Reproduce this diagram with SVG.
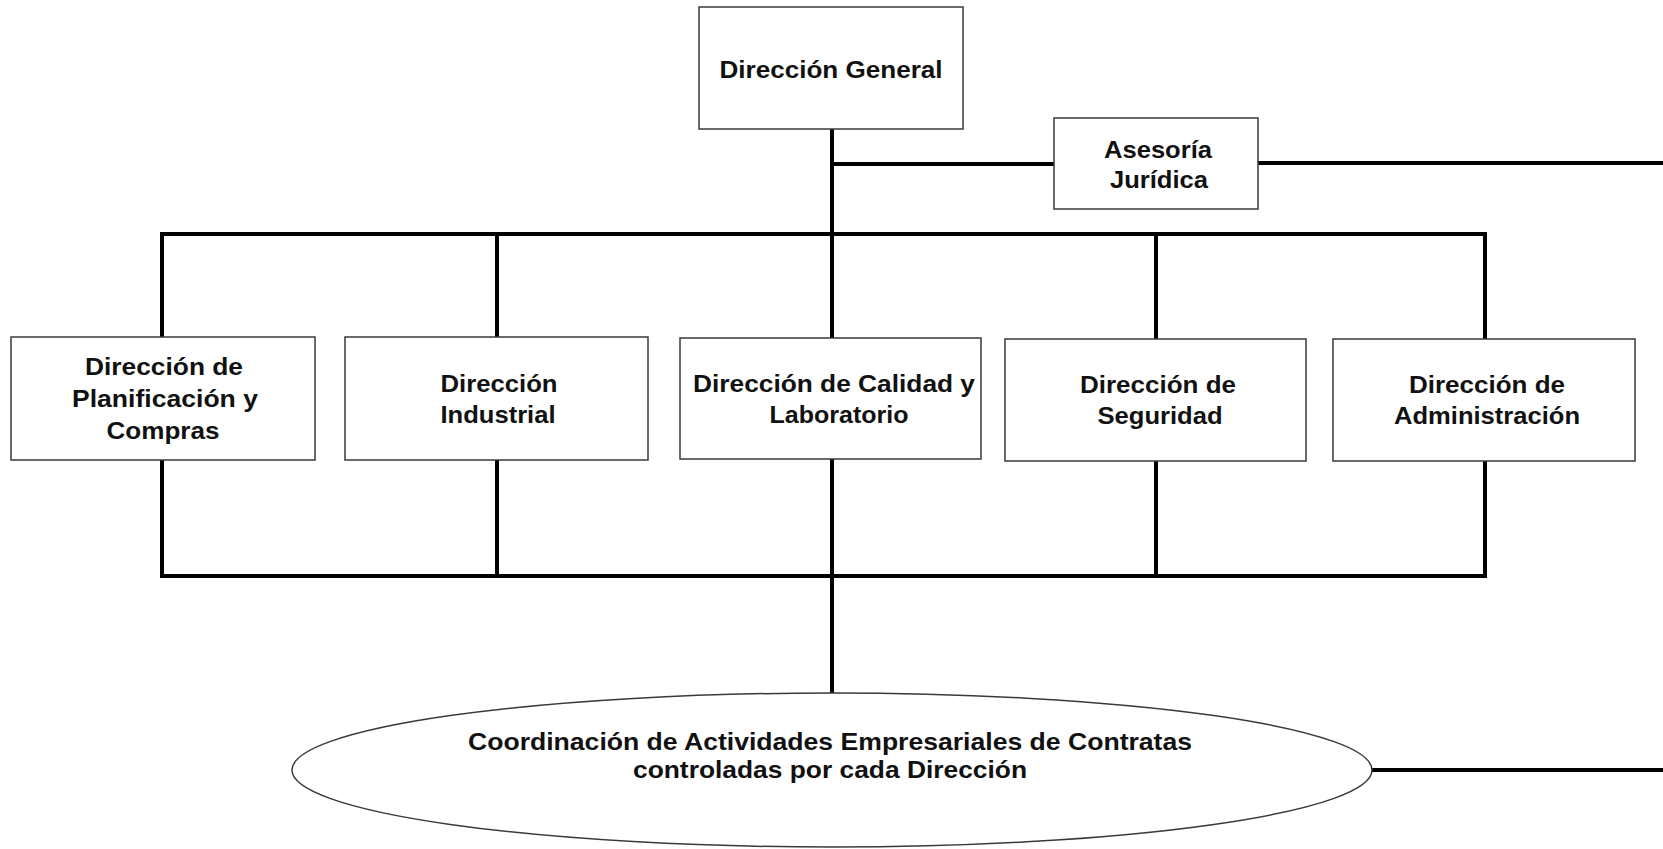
<svg xmlns="http://www.w3.org/2000/svg" width="1663" height="849" viewBox="0 0 1663 849">
<style>
.box{fill:#fff;stroke:#3a3a3a;stroke-width:1.5}
.t{font-family:"Liberation Sans",Arial,sans-serif;font-weight:bold;font-size:24px;fill:#111;text-anchor:middle}
.c{stroke:#000;stroke-width:4;fill:none;stroke-linecap:square}
</style>
<rect width="1663" height="849" fill="#fff"/>
<g id="connectors">
<path class="c" d="M832 129V338M832 164H1054M1258 163H1661M162 234H1485M162 234V337M497 234V337M1156 234V339M1485 234V339"/>
<path class="c" d="M162 460V576M497 460V576M832 459V692M1156 461V576M1485 461V576M162 576H1485M1372 770H1661"/>
</g>
<g id="n-direccion-general">
<rect class="box" x="699" y="7" width="264" height="122"/>
<text class="t" x="831" y="78" textLength="223" lengthAdjust="spacingAndGlyphs">Dirección  General</text>
</g>
<g id="n-asesoria">
<rect class="box" x="1054" y="118" width="204" height="91"/>
<text class="t" x="1158" y="158" textLength="108" lengthAdjust="spacingAndGlyphs">Asesoría</text>
<text class="t" x="1159" y="188" textLength="98" lengthAdjust="spacingAndGlyphs">Jurídica</text>
</g>
<g id="n-planificacion">
<rect class="box" x="11" y="337" width="304" height="123"/>
<text class="t" x="164" y="375" textLength="158" lengthAdjust="spacingAndGlyphs">Dirección de</text>
<text class="t" x="165" y="407" textLength="186" lengthAdjust="spacingAndGlyphs">Planificación  y</text>
<text class="t" x="163" y="439" textLength="113" lengthAdjust="spacingAndGlyphs">Compras</text>
</g>
<g id="n-industrial">
<rect class="box" x="345" y="337" width="303" height="123"/>
<text class="t" x="499" y="392" textLength="117" lengthAdjust="spacingAndGlyphs">Dirección</text>
<text class="t" x="498" y="423" textLength="115" lengthAdjust="spacingAndGlyphs">Industrial</text>
</g>
<g id="n-calidad">
<rect class="box" x="680" y="338" width="301" height="121"/>
<text class="t" x="834" y="392" textLength="282" lengthAdjust="spacingAndGlyphs">Dirección de Calidad y</text>
<text class="t" x="839" y="423" textLength="139" lengthAdjust="spacingAndGlyphs">Laboratorio</text>
</g>
<g id="n-seguridad">
<rect class="box" x="1005" y="339" width="301" height="122"/>
<text class="t" x="1158" y="393" textLength="156" lengthAdjust="spacingAndGlyphs">Dirección de</text>
<text class="t" x="1160" y="424" textLength="125" lengthAdjust="spacingAndGlyphs">Seguridad</text>
</g>
<g id="n-administracion">
<rect class="box" x="1333" y="339" width="302" height="122"/>
<text class="t" x="1487" y="393" textLength="156" lengthAdjust="spacingAndGlyphs">Dirección de</text>
<text class="t" x="1487" y="424" textLength="186" lengthAdjust="spacingAndGlyphs">Administración</text>
</g>
<g id="n-coordinacion">
<ellipse cx="832" cy="770" rx="540" ry="77" fill="#fff" stroke="#3a3a3a" stroke-width="1.5"/>
<text class="t" x="830" y="750" textLength="724" lengthAdjust="spacingAndGlyphs">Coordinación  de Actividades  Empresariales de Contratas</text>
<text class="t" x="830" y="778" textLength="394" lengthAdjust="spacingAndGlyphs">controladas por cada Dirección</text>
</g>
</svg>
